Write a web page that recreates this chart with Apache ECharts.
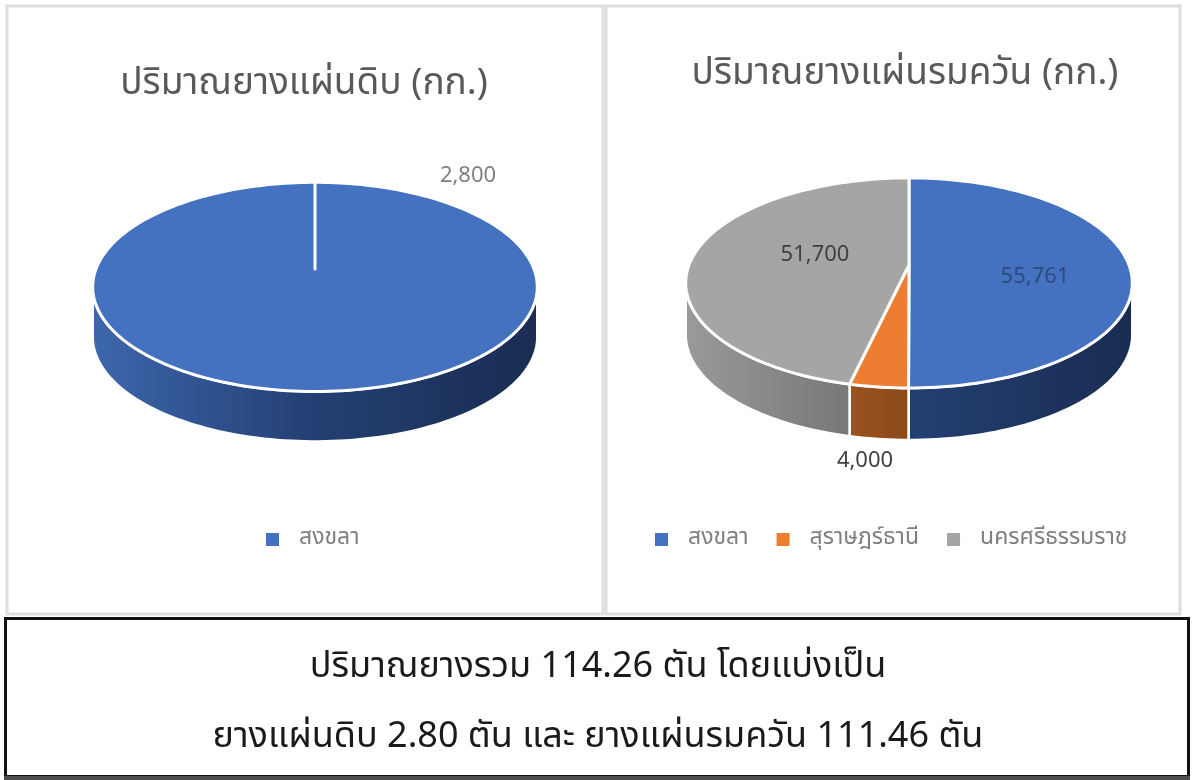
<!DOCTYPE html>
<html>
<head>
<meta charset="utf-8">
<style>html,body{margin:0;padding:0;background:#fff}#c{width:1200px;height:780px}</style>
<script src="https://cdn.jsdelivr.net/npm/echarts@6/dist/echarts.min.js"></script>
</head>
<body>
<div id="c"></div>
<script>
// ---- data ----
const rawTitle = 'ปริมาณยางแผ่นดิบ (กก.)';
const smokedTitle = 'ปริมาณยางแผ่นรมควัน (กก.)';
const rawNames = ['สงขลา'];
const rawValues = [2800];
const smokedNames = ['สงขลา', 'สุราษฎร์ธานี', 'นครศรีธรรมราช'];
const smokedValues = [55761, 4000, 51700];
const summaryLines = ['ปริมาณยางรวม 114.26 ตัน โดยแบ่งเป็น', 'ยางแผ่นดิบ 2.80 ตัน และ ยางแผ่นรมควัน 111.46 ตัน'];

// ---- styling and geometry ----
const FONT = '"Noto Sans Thai","Noto Sans","Liberation Sans","DejaVu Sans",sans-serif';
const PAL = {
  'สงขลา': {top:'#4472c0', wall:['#3d66ab','#233f72','#1a2d52']},
  'สุราษฎร์ธานี': {top:'#ed7d31', wall:['#c9692a','#8a4a1a','#6e3c15']},
  'นครศรีธรรมราช': {top:'#a5a5a5', wall:['#999999','#6b6b6b','#4c4c4c']}
};
const K = 0.171;
const leftGeom = {cx:315, apexY:269, rx:219, a:101.5, depth:50, labels:[[153,-91]], labelColors:['#7f7f7f']};
const rightGeom = {cx:909, apexY:265, rx:220, a:102, depth:52,
  labels:[[126,14],[-44,198],[-94,-8]], labelColors:['#2f4a80','#404040','#404040']};

function project(g, deg){
  const t = deg*Math.PI/180, u = Math.sin(t), v = -Math.cos(t), w = 1 - K*v;
  return [g.cx + g.rx*u/w, g.apexY + g.a*v/w];
}
function arc(g, from, to, dy){
  const pts = [], n = Math.max(2, Math.ceil(Math.abs(to-from)/1.5));
  for(let i=0;i<=n;i++){const p = project(g, from+(to-from)*i/n); pts.push([p[0], p[1]+(dy||0)]);}
  return pts;
}
const FRONT0 = Math.acos(-K)*180/Math.PI, FRONT1 = 360-FRONT0;

function sliceSeries(names, values, g){
  const total = values.reduce((a,b)=>a+b,0);
  let acc = 0;
  return names.map((name,i)=>{
    const from = acc/total*360; acc += values[i]; const to = acc/total*360;
    const pal = PAL[name];
    return {
      type:'custom', name:name, coordinateSystem:'none', silent:true,
      itemStyle:{color:pal.top},
      data:[[values[i]]],
      renderItem:function(params, api){
        const children = [];
        const wf = Math.max(from, FRONT0), wt = Math.min(to, FRONT1);
        if(wt>wf){
          const upper = arc(g, wf, wt, 0), lower = arc(g, wt, wf, g.depth);
          children.push({type:'polygon', shape:{points:upper.concat(lower)},
            style:{fill:{type:'linear', x:g.cx-g.rx, y:0, x2:g.cx+g.rx, y2:0, global:true,
              colorStops:[{offset:0,color:pal.wall[0]},{offset:.5,color:pal.wall[1]},{offset:1,color:pal.wall[2]}]},
              stroke:'#fff', lineWidth:2.5, lineJoin:'round'}});
        }
        children.push({type:'polygon', shape:{points:[[g.cx,g.apexY]].concat(arc(g, from, to, 0))},
          style:{fill:pal.top, stroke:'#fff', lineWidth:3, lineJoin:'round'}});
        children.push({type:'text', x:g.cx+g.labels[i][0], y:g.apexY+g.labels[i][1], z2:50,
          style:{text:api.value(0).toLocaleString('en-US'), fill:g.labelColors[i], font:'22px '+FONT, align:'center', verticalAlign:'middle'}});
        return {type:'group', children:children};
      }
    };
  });
}

const titleBase = {textAlign:'center', textVerticalAlign:'middle'};
const chart = echarts.init(document.getElementById('c'));
chart.setOption({
  animation:false,
  backgroundColor:'#fff',
  title:[
    Object.assign({text:rawTitle, left:299, top:82, textStyle:{fontFamily:FONT,fontSize:37,fontWeight:'normal',color:'#595959'}},titleBase),
    Object.assign({text:smokedTitle, left:900, top:72, textStyle:{fontFamily:FONT,fontSize:37,fontWeight:'normal',color:'#595959'}},titleBase),
    Object.assign({text:summaryLines[0], left:593, top:665, textStyle:{fontFamily:FONT,fontSize:36,fontWeight:'normal',color:'#1a1a1a'}},titleBase),
    Object.assign({text:summaryLines[1], left:593, top:735, textStyle:{fontFamily:FONT,fontSize:36,fontWeight:'normal',color:'#1a1a1a'}},titleBase)
  ],
  legend:[
    {data:rawNames, left:261, top:523, icon:'rect', itemWidth:13, itemHeight:13, selectedMode:false,
      textStyle:{fontFamily:FONT,fontSize:23,color:'#7f7f7f',padding:[0,0,0,15]}},
    {data:smokedNames, left:650, top:523, icon:'rect', itemWidth:13, itemHeight:13, itemGap:28, selectedMode:false,
      textStyle:{fontFamily:FONT,fontSize:23,color:'#7f7f7f',padding:[0,0,0,15]}}
  ],
  graphic:[
    {type:'rect', z:-1, shape:{x:7,y:6,width:596,height:608}, style:{fill:'#fff',stroke:'#dedede',lineWidth:3}},
    {type:'rect', z:-1, shape:{x:606,y:6,width:574,height:608}, style:{fill:'#fff',stroke:'#dedede',lineWidth:3}},
    {type:'rect', z:-1, shape:{x:5.5,y:618.5,width:1183,height:158}, style:{fill:'#fff',stroke:'#111',lineWidth:3}},
    {type:'rect', z:-1, shape:{x:4,y:776,width:1186,height:4}, style:{fill:'#4d4d4d'}}
  ],
  series: sliceSeries(rawNames, rawValues, leftGeom).concat(sliceSeries(smokedNames, smokedValues, rightGeom))
});
</script>
</body>
</html>
